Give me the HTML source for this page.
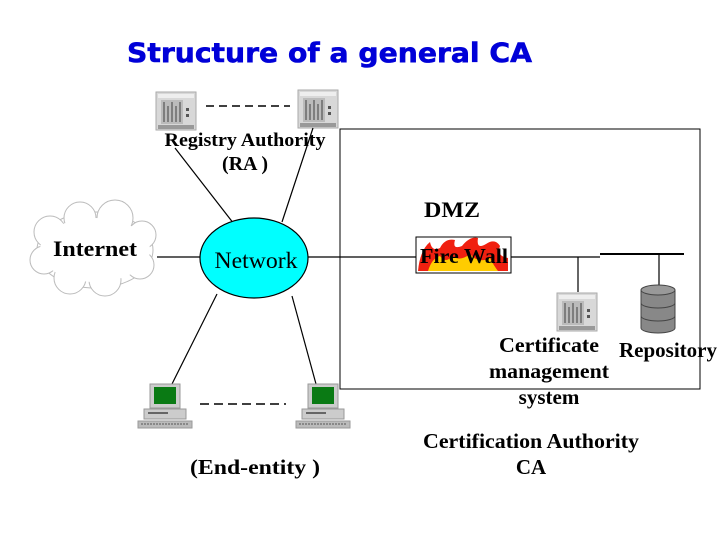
<!DOCTYPE html>
<html><head><meta charset="utf-8"><style>
html,body{margin:0;padding:0;background:#fff;}
svg{display:block}
.t{font-family:"Liberation Serif",serif;font-weight:bold;fill:#000}
</style></head><body>
<svg width="720" height="540" viewBox="0 0 720 540" xmlns="http://www.w3.org/2000/svg">
<defs>
<g id="srv">
<rect x="0" y="0" width="40" height="38" fill="#d8d8d8" stroke="#aaa"/>
<rect x="2" y="2" width="36" height="4" fill="#eee"/>
<rect x="5" y="8" width="22" height="24" fill="#bbb"/>
<g stroke="#555" stroke-width="1.2"><line x1="8" y1="10" x2="8" y2="30"/><line x1="12" y1="14" x2="12" y2="30"/><line x1="16" y1="10" x2="16" y2="30"/><line x1="20" y1="14" x2="20" y2="30"/><line x1="24" y1="10" x2="24" y2="30"/></g>
<rect x="30" y="16" width="3" height="3" fill="#555"/><rect x="30" y="22" width="3" height="3" fill="#555"/>
<rect x="2" y="33" width="36" height="4" fill="#999"/>
</g>
<g id="pc">
<rect x="12" y="0" width="30" height="24" fill="#ccc" stroke="#999"/>
<rect x="16" y="3" width="22" height="17" fill="#0a7a14"/>
<rect x="6" y="25" width="42" height="10" fill="#ccc" stroke="#999"/>
<rect x="10" y="28" width="20" height="2" fill="#666"/>
<rect x="0" y="37" width="54" height="7" fill="#bbb" stroke="#999"/>
<line x1="3" y1="40" x2="51" y2="40" stroke="#555" stroke-dasharray="2,1"/>
</g>
</defs>
<text x="127" y="62" font-family="DejaVu Sans,sans-serif" font-weight="bold" font-size="27" fill="#0000d8" stroke="#0000d8" stroke-width="0.6" textLength="405" lengthAdjust="spacingAndGlyphs">Structure of a general CA</text>

<use href="#srv" x="156" y="92"/>
<use href="#srv" x="298" y="90"/>
<line x1="206" y1="106" x2="290" y2="106" stroke="#000" stroke-width="1.5" stroke-dasharray="8,5"/>

<rect x="340" y="129" width="360" height="260" fill="none" stroke="#000"/>

<g fill="#fff" stroke="#bbb" stroke-width="1">
<ellipse cx="95" cy="250" rx="58" ry="38"/>
<circle cx="50" cy="232" r="16"/><circle cx="80" cy="218" r="16"/><circle cx="115" cy="218" r="18"/><circle cx="142" cy="235" r="14"/>
<circle cx="140" cy="265" r="14"/><circle cx="105" cy="280" r="16"/><circle cx="70" cy="278" r="16"/><circle cx="44" cy="260" r="14"/>
<ellipse cx="95" cy="250" rx="55" ry="32" stroke="none"/>
</g>
<text class="t" x="53" y="256" font-size="22" textLength="84" lengthAdjust="spacingAndGlyphs">Internet</text>

<g stroke="#000" stroke-width="1.2">
<line x1="157" y1="257" x2="200" y2="257"/>
<line x1="308" y1="257" x2="416" y2="257"/>
<line x1="510" y1="257" x2="600" y2="257"/>
<line x1="600" y1="254" x2="684" y2="254" stroke-width="2"/>
<line x1="578" y1="257" x2="578" y2="292"/>
<line x1="659" y1="254" x2="659" y2="286"/>
<line x1="175" y1="148" x2="234" y2="224"/>
<line x1="313" y1="128" x2="282" y2="222"/>
<line x1="217" y1="294" x2="172" y2="384"/>
<line x1="292" y1="296" x2="316" y2="384"/>
</g>
<ellipse cx="254" cy="258" rx="54" ry="40" fill="#00ffff" stroke="#000" stroke-width="1.2"/>
<text x="256" y="268" font-family="Liberation Serif,serif" font-size="23" text-anchor="middle" textLength="83" lengthAdjust="spacingAndGlyphs">Network</text>

<text class="t" x="245" y="146" font-size="19" text-anchor="middle" textLength="161" lengthAdjust="spacingAndGlyphs">Registry Authority</text>
<text class="t" x="245" y="170" font-size="20" text-anchor="middle">(RA )</text>
<text class="t" x="452" y="217" font-size="22" text-anchor="middle" textLength="56" lengthAdjust="spacingAndGlyphs">DMZ</text>

<rect x="416" y="237" width="95" height="36" fill="#fff" stroke="#000"/>
<path d="M418 271 Q420 250 430 242 Q432 252 440 248 Q445 238 455 240 Q452 250 462 246 Q470 236 478 238 Q476 250 486 244 Q495 238 500 246 Q496 256 508 258 L508 271 Z" fill="#f02010"/>
<path d="M428 271 Q432 258 440 256 Q446 264 452 256 Q460 262 470 254 Q478 264 490 258 Q494 266 498 271 Z" fill="#ffcc00"/>
<text class="t" x="464" y="263" font-size="21" text-anchor="middle" textLength="88" lengthAdjust="spacingAndGlyphs">Fire Wall</text>

<use href="#srv" x="557" y="293"/>
<g stroke="#444">
<path d="M641 290 L641 328 A17 5 0 0 0 675 328 L675 290" fill="#888"/>
<ellipse cx="658" cy="290" rx="17" ry="5" fill="#999"/>
<path d="M641 303 A17 5 0 0 0 675 303 M641 316 A17 5 0 0 0 675 316" fill="none"/>
</g>

<text class="t" x="549" y="352" font-size="21" text-anchor="middle" textLength="100" lengthAdjust="spacingAndGlyphs">Certificate</text>
<text class="t" x="549" y="378" font-size="21" text-anchor="middle" textLength="120" lengthAdjust="spacingAndGlyphs">management</text>
<text class="t" x="549" y="404" font-size="21" text-anchor="middle">system</text>
<text class="t" x="668" y="357" font-size="21" text-anchor="middle" textLength="98" lengthAdjust="spacingAndGlyphs">Repository</text>

<use href="#pc" x="138" y="384"/>
<use href="#pc" x="296" y="384"/>
<line x1="200" y1="404" x2="286" y2="404" stroke="#000" stroke-width="1.5" stroke-dasharray="9,5"/>
<text class="t" x="255" y="474" font-size="21" text-anchor="middle" textLength="130" lengthAdjust="spacingAndGlyphs">(End-entity )</text>

<text class="t" x="531" y="448" font-size="21" text-anchor="middle" textLength="216" lengthAdjust="spacingAndGlyphs">Certification Authority</text>
<text class="t" x="531" y="474" font-size="21" text-anchor="middle">CA</text>
</svg>
</body></html>
